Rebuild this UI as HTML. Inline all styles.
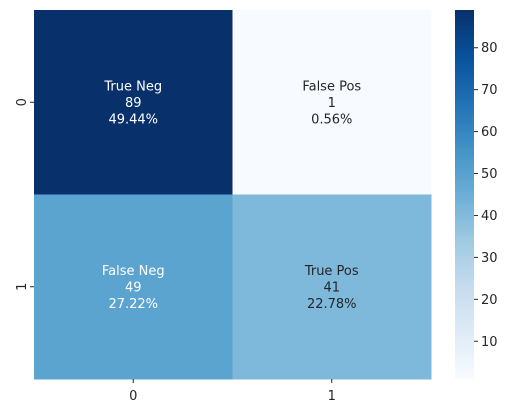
<!DOCTYPE html>
<html><head><meta charset="utf-8"><style>
html,body{margin:0;padding:0;background:#fff;}
svg{display:block;font-family:"DejaVu Sans","Liberation Sans",sans-serif;}
</style></head><body>
<svg id="chart" width="511" height="413" viewBox="0 0 511 413"></svg>
<script>
const rowLabels = ["0","1"];
const colLabels = ["0","1"];
const cellNames = [["True Neg","False Pos"],["False Neg","True Pos"]];
const counts = [[89,1],[49,41]];
const percents = ["49.44%","0.56%","27.22%","22.78%"];
const cbTicks = [10,20,30,40,50,60,70,80];

const NS="http://www.w3.org/2000/svg";
const svg=document.getElementById('chart');
const blues=["#f7fbff","#deebf7","#c6dbef","#9ecae1","#6baed6","#4292c6","#2171b5","#08519c","#08306b"];
const all=counts.flat();
const vmin=Math.min(...all), vmax=Math.max(...all);
function hex(h){return [1,3,5].map(i=>parseInt(h.substr(i,2),16));}
function lin(c){c/=255;return c<=0.03928?c/12.92:Math.pow((c+0.055)/1.055,2.4);}
function color(v){
  let t=(v-vmin)/(vmax-vmin); t=Math.max(0,Math.min(1,t));
  const p=t*8, i=Math.min(7,Math.floor(p)), f=p-i;
  const a=hex(blues[i]), b=hex(blues[i+1]);
  const c=a.map((x,k)=>Math.round(x+(b[k]-x)*f));
  return {css:`rgb(${c.join(',')})`, lum:0.2126*lin(c[0])+0.7152*lin(c[1])+0.0722*lin(c[2])};
}
function el(tag,attrs,parent){const e=document.createElementNS(NS,tag);for(const k in attrs)e.setAttribute(k,attrs[k]);(parent||svg).appendChild(e);return e;}

const X0=34,X1=431,Y0=10,Y1=379;
const cw=(X1-X0)/colLabels.length, ch=(Y1-Y0)/rowLabels.length;
const xs=j=>X0+j*cw, ys=i=>Y0+i*ch;

for(let i=0;i<rowLabels.length;i++){
  for(let j=0;j<colLabels.length;j++){
    const v=counts[i][j], c=color(v);
    const r=el('rect',{x:xs(j),y:ys(i),width:cw+0.5,height:ch+0.5,fill:c.css});
    
    
    const tc=c.lum>0.408?'#262626':'#ffffff';
    const cx=xs(j)+cw/2, cy=ys(i)+ch/2;
    const lines=[cellNames[i][j],String(v),percents[i*2+j]];
    lines.forEach((s,k)=>{
      const t=el('text',{x:cx,y:cy+(k-1)*16.5+4.5,'text-anchor':'middle','font-size':'13',fill:tc});
      t.textContent=s;
      
      
    });
  }
}
rowLabels.forEach((l,i)=>{
  const y=ys(i)+ch/2;
  el('line',{x1:X0-4,x2:X0,y1:y,y2:y,stroke:'#262626','stroke-width':1});
  const t=el('text',{x:0,y:0,transform:`translate(${X0-8},${y}) rotate(-90)`,'text-anchor':'middle','font-size':'13',fill:'#262626'});
  t.textContent=l;
  
  
});
colLabels.forEach((l,j)=>{
  const x=xs(j)+cw/2;
  el('line',{x1:x,x2:x,y1:Y1,y2:Y1+4,stroke:'#262626','stroke-width':1});
  const t=el('text',{x:x,y:Y1+21,'text-anchor':'middle','font-size':'13',fill:'#262626'});
  t.textContent=l;
  
  
});
const CX0=455,CX1=474;
const defs=el('defs',{});
const g=el('linearGradient',{id:'cbg',x1:0,y1:1,x2:0,y2:0},defs);
blues.forEach((c,k)=>el('stop',{offset:(k/8*100)+'%','stop-color':c},g));
const cb=el('rect',{x:CX0,y:Y0,width:CX1-CX0,height:Y1-Y0,fill:'url(#cbg)'});


const cy=v=>Y1-(v-vmin)/(vmax-vmin)*(Y1-Y0);
cbTicks.forEach(v=>{
  const y=cy(v);
  el('line',{x1:CX1,x2:CX1+4,y1:y,y2:y,stroke:'#262626','stroke-width':1});
  const t=el('text',{x:CX1+7,y:y+4.5,'font-size':'13',fill:'#262626'});
  t.textContent=String(v);
  
  
});
</script>
</body></html>
